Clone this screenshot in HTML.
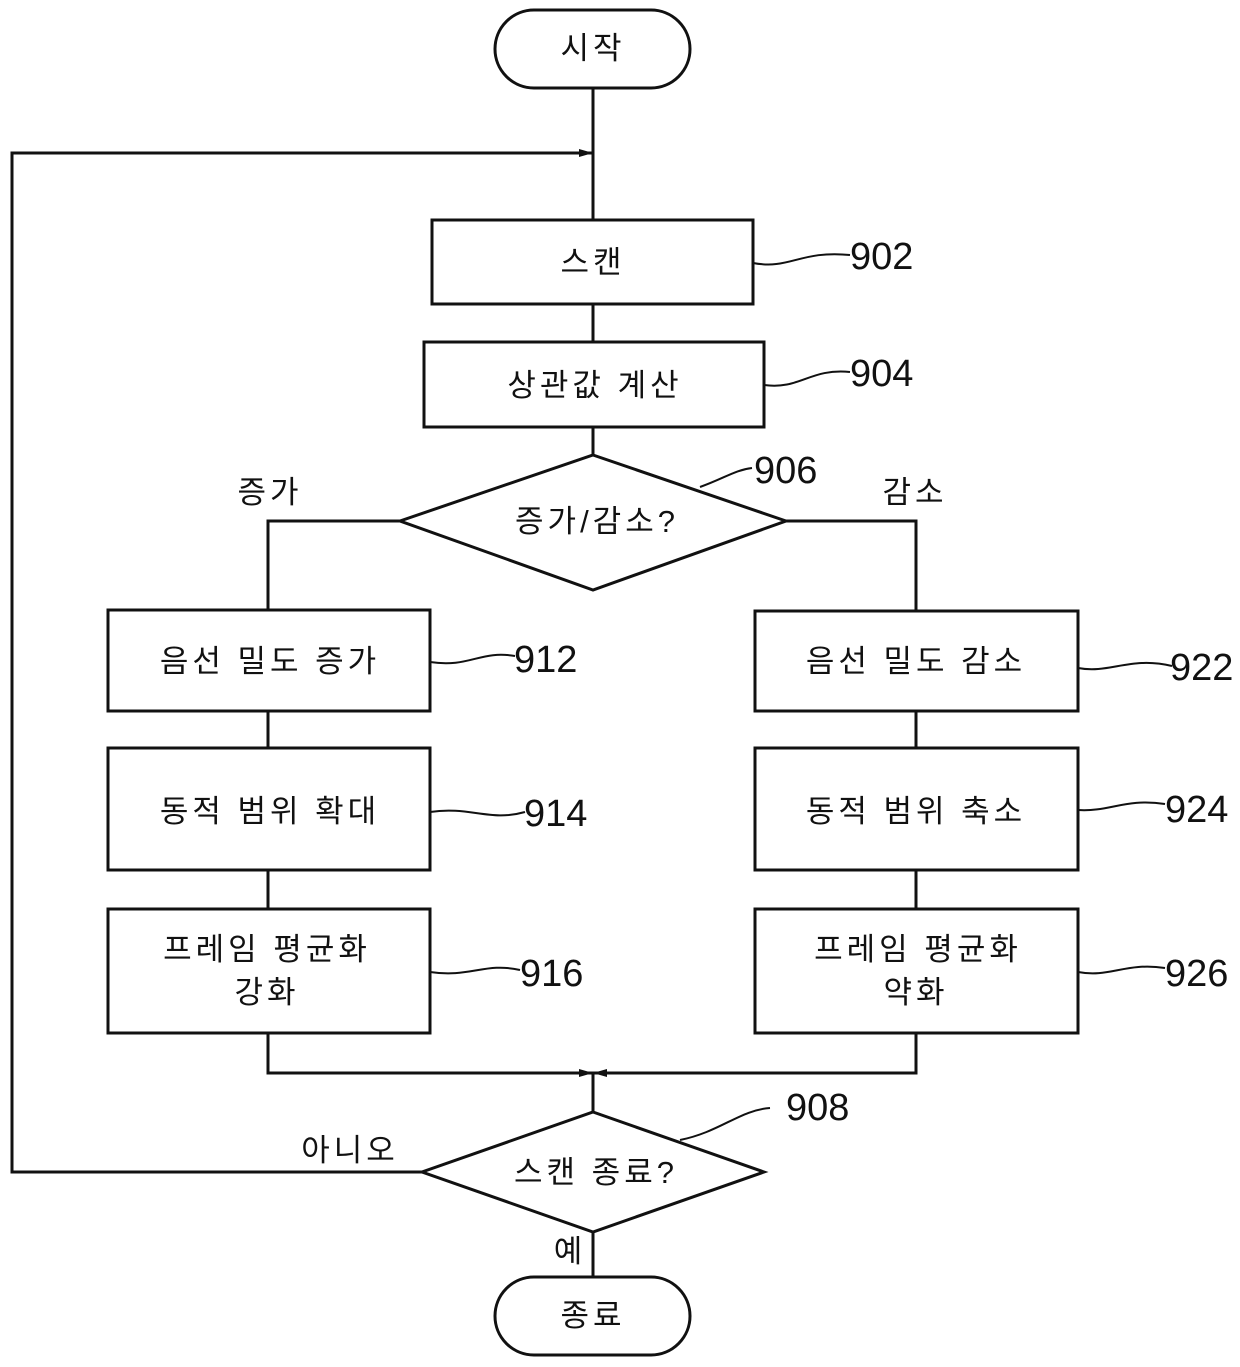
<!DOCTYPE html>
<html><head><meta charset="utf-8"><style>
html,body{margin:0;padding:0;background:#fff;}
svg{display:block;}
.k{font-family:"Liberation Sans","Noto Sans CJK KR",sans-serif;font-size:31px;fill:#111;text-anchor:middle;letter-spacing:4px;}
.n{font-family:"Liberation Sans Narrow","Liberation Sans",sans-serif;font-size:38px;fill:#111;text-anchor:start;}
</style></head><body>
<svg width="1240" height="1367" viewBox="0 0 1240 1367" xmlns="http://www.w3.org/2000/svg">
<defs><marker id="a" markerWidth="14" markerHeight="10" refX="14" refY="5" orient="auto" markerUnits="userSpaceOnUse"><path d="M0,1 L14,5 L0,9 Z" fill="#111"/></marker></defs>
<g fill="none" stroke="#111" stroke-width="3">
<rect x="495" y="10" width="195" height="78" rx="39"/>
<rect x="495" y="1277" width="195" height="78" rx="39"/>
<line x1="593" y1="88" x2="593" y2="220"/>
<polyline points="422,1172 12,1172 12,153 593,153" marker-end="url(#a)"/>
<rect x="432" y="220" width="321" height="84"/>
<line x1="593" y1="304" x2="593" y2="342"/>
<rect x="424" y="342" width="340" height="85"/>
<line x1="593" y1="427" x2="593" y2="455"/>
<polygon points="593,455 786,521 593,590 400,521"/>
<polyline points="400,521 268,521 268,610"/>
<polyline points="786,521 916,521 916,611"/>
<rect x="108" y="610" width="322" height="101"/>
<rect x="108" y="748" width="322" height="122"/>
<rect x="108" y="909" width="322" height="124"/>
<rect x="755" y="611" width="323" height="100"/>
<rect x="755" y="748" width="323" height="122"/>
<rect x="755" y="909" width="323" height="124"/>
<line x1="268" y1="711" x2="268" y2="748"/><line x1="268" y1="870" x2="268" y2="909"/>
<line x1="916" y1="711" x2="916" y2="748"/><line x1="916" y1="870" x2="916" y2="909"/>
<polyline points="268,1033 268,1073 593,1073" marker-end="url(#a)"/>
<polyline points="916,1033 916,1073 593,1073" marker-end="url(#a)"/>
<line x1="593" y1="1073" x2="593" y2="1112"/>
<polygon points="593,1112 764,1172 593,1232 422,1172"/>
<line x1="593" y1="1232" x2="593" y2="1277"/>
<g stroke-width="2">
<path d="M753,263 C790,270 800,250 850,255"/>
<path d="M764,385 C800,390 810,368 850,372"/>
<path d="M700,487 C725,478 735,470 752,468"/>
<path d="M430,662 C470,668 480,650 515,656"/>
<path d="M430,812 C470,806 490,822 525,812"/>
<path d="M430,972 C470,978 485,962 520,970"/>
<path d="M1078,668 C1110,674 1130,656 1172,666"/>
<path d="M1078,810 C1110,812 1125,798 1165,804"/>
<path d="M1078,972 C1110,978 1125,962 1165,968"/>
<path d="M680,1140 C720,1132 740,1110 770,1108"/>
</g>
</g>
<text class="k" x="593" y="59">시작</text>
<text class="k" x="593" y="273">스캔</text>
<text class="k" x="595" y="396">상관값 계산</text>
<text class="k" x="597" y="532">증가/감소?</text>
<text class="k" x="270" y="503">증가</text>
<text class="k" x="915" y="503">감소</text>
<text class="k" x="270" y="672">음선 밀도 증가</text>
<text class="k" x="270" y="822">동적 범위 확대</text>
<text class="k" x="267" y="960">프레임 평균화</text>
<text class="k" x="267" y="1003">강화</text>
<text class="k" x="916" y="672">음선 밀도 감소</text>
<text class="k" x="916" y="822">동적 범위 축소</text>
<text class="k" x="918" y="960">프레임 평균화</text>
<text class="k" x="916" y="1003">약화</text>
<text class="k" x="596" y="1183">스캔 종료?</text>
<text class="k" x="350" y="1161">아니오</text>
<text class="k" x="570" y="1262">예</text>
<text class="k" x="593" y="1326">종료</text>
<text class="n" x="850" y="269">902</text>
<text class="n" x="850" y="386">904</text>
<text class="n" x="754" y="483">906</text>
<text class="n" x="514" y="672">912</text>
<text class="n" x="524" y="826">914</text>
<text class="n" x="520" y="986">916</text>
<text class="n" x="1170" y="680">922</text>
<text class="n" x="1165" y="822">924</text>
<text class="n" x="1165" y="986">926</text>
<text class="n" x="786" y="1120">908</text>
</svg>
</body></html>
